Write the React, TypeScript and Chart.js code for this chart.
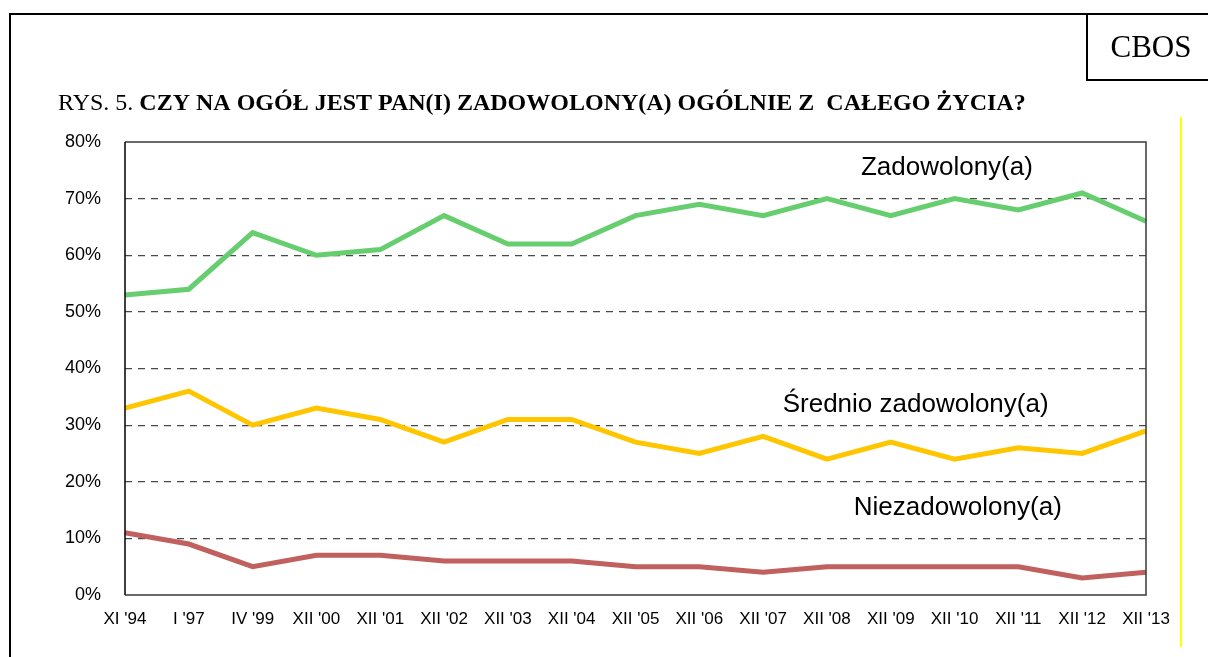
import React, { useEffect, useRef } from "react";
import { Chart, registerables } from "chart.js";

Chart.register(...registerables);

const categories = [
  "XI '94", "I '97", "IV '99", "XII '00", "XII '01", "XII '02", "XII '03", "XII '04",
  "XII '05", "XII '06", "XII '07", "XII '08", "XII '09", "XII '10", "XII '11", "XII '12", "XII '13",
];
const zadowolony = [53, 54, 64, 60, 61, 67, 62, 62, 67, 69, 67, 70, 67, 70, 68, 71, 66];
const srednio = [33, 36, 30, 33, 31, 27, 31, 31, 27, 25, 28, 24, 27, 24, 26, 25, 29];
const niezadowolony = [11, 9, 5, 7, 7, 6, 6, 6, 5, 5, 4, 5, 5, 5, 5, 3, 4];
const yTicks = [0, 10, 20, 30, 40, 50, 60, 70, 80];

const seriesNames = ["Zadowolony(a)", "Średnio zadowolony(a)", "Niezadowolony(a)"];
const labelAtIndex = [12.88, 12.39, 13.05];
const labelAtValue = [74.2, 32.3, 14.1];

const titlePrefix = "RYS. 5. ";
const titleMain = "CZY NA OGÓŁ JEST PAN(I) ZADOWOLONY(A) OGÓLNIE Z  CAŁEGO ŻYCIA?";
const source = "CBOS";

const W = 1208;
const H = 657;

const decorPlugin = {
  id: "decor",
  beforeDraw(chart: any) {
    const ctx = chart.ctx;
    ctx.save();
    ctx.fillStyle = "#ffffff";
    ctx.fillRect(0, 0, W, H);
    ctx.restore();
  },
  afterDraw(chart: any) {
    const ctx = chart.ctx;
    const a = chart.chartArea;
    const xs = chart.scales.x;
    const ys = chart.scales.y;
    ctx.save();
    // plot frame
    ctx.lineWidth = 1.5;
    ctx.strokeStyle = "#3a3a3a";
    ctx.beginPath();
    ctx.moveTo(a.left, a.top);
    ctx.lineTo(a.right, a.top);
    ctx.lineTo(a.right, a.bottom);
    ctx.lineTo(a.left, a.bottom);
    ctx.stroke();
    ctx.strokeStyle = "#000000";
    ctx.beginPath();
    ctx.moveTo(a.left, a.top);
    ctx.lineTo(a.left, a.bottom);
    ctx.stroke();

    // outer frame
    ctx.strokeStyle = "#000";
    ctx.lineWidth = 2;
    ctx.beginPath();
    ctx.moveTo(10, H);
    ctx.lineTo(10, 14);
    ctx.lineTo(W, 14);
    ctx.stroke();
    // CBOS box
    ctx.beginPath();
    ctx.moveTo(1087, 14);
    ctx.lineTo(1087, 80);
    ctx.lineTo(W, 80);
    ctx.stroke();

    // yellow vertical line
    ctx.strokeStyle = "#ffff00";
    ctx.lineWidth = 2;
    ctx.beginPath();
    ctx.moveTo(1181, 117);
    ctx.lineTo(1181, 647);
    ctx.stroke();

    // CBOS text
    ctx.fillStyle = "#000";
    ctx.textBaseline = "alphabetic";
    ctx.textAlign = "center";
    ctx.font = '31px "Liberation Serif", "Times New Roman", serif';
    ctx.fillText(source, 1151, 57);

    // title
    ctx.textAlign = "left";
    ctx.font = '24px "Liberation Serif", "Times New Roman", serif';
    ctx.fillText(titlePrefix, 58, 110);
    const w1 = ctx.measureText(titlePrefix).width;
    ctx.font = 'bold 24px "Liberation Serif", "Times New Roman", serif';
    ctx.fillText(titleMain, 58 + w1, 110);

    // series labels
    ctx.textAlign = "center";
    ctx.font = '26px "Liberation Sans", Arial, sans-serif';
    for (let i = 0; i < seriesNames.length; i++) {
      const px = xs.getPixelForValue(labelAtIndex[i]);
      const py = ys.getPixelForValue(labelAtValue[i]);
      ctx.fillText(seriesNames[i], px, py);
    }
    ctx.restore();
  },
};

export default function App() {
  const ref = useRef<HTMLCanvasElement | null>(null);
  useEffect(() => {
    if (!ref.current) return;
    const chart = new Chart(ref.current, {
      type: "line",
      data: {
        labels: categories,
        datasets: [
          { label: seriesNames[0], data: zadowolony, borderColor: "#66CE6E", borderWidth: 5, pointRadius: 0, tension: 0, fill: false },
          { label: seriesNames[1], data: srednio, borderColor: "#FFC600", borderWidth: 5, pointRadius: 0, tension: 0, fill: false },
          { label: seriesNames[2], data: niezadowolony, borderColor: "#C0605F", borderWidth: 5, pointRadius: 0, tension: 0, fill: false },
        ],
      },
      options: {
        responsive: false,
        animation: false,
        devicePixelRatio: 1,
        layout: { padding: { left: 0, top: 142, right: 62, bottom: 0 } },
        plugins: { legend: { display: false }, tooltip: { enabled: false } },
        scales: {
          x: {
            offset: false,
            grid: { display: false, drawTicks: false },
            border: { display: false },
            ticks: {
              autoSkip: false,
              maxRotation: 0,
              minRotation: 0,
              padding: 14,
              color: "#000",
              font: { size: 17, family: '"Liberation Sans", Arial, sans-serif' },
            },
            afterFit: (s: any) => { s.height = 62; },
          },
          y: {
            min: 0,
            max: 80,
            afterBuildTicks: (s: any) => { s.ticks = yTicks.map((v) => ({ value: v })); },
            grid: {
              drawTicks: false,
              color: (c: any) => (c.tick && (c.tick.value === 0 || c.tick.value === 80) ? "rgba(0,0,0,0)" : "#4a4a4a"),
              lineWidth: 1.2,
            },
            border: { display: false, dash: [7, 6] },
            ticks: {
              padding: 24,
              color: "#000",
              font: { size: 18, family: '"Liberation Sans", Arial, sans-serif' },
              callback: (v: any) => `${v}%`,
            },
            afterFit: (s: any) => { s.width = 125; },
          },
        },
      },
      plugins: [decorPlugin],
    });
    return () => chart.destroy();
  }, []);
  return (
    <canvas
      ref={ref}
      width={W}
      height={H}
      style={{ position: "absolute", left: 0, top: 0, width: W, height: H, display: "block" }}
    />
  );
}
